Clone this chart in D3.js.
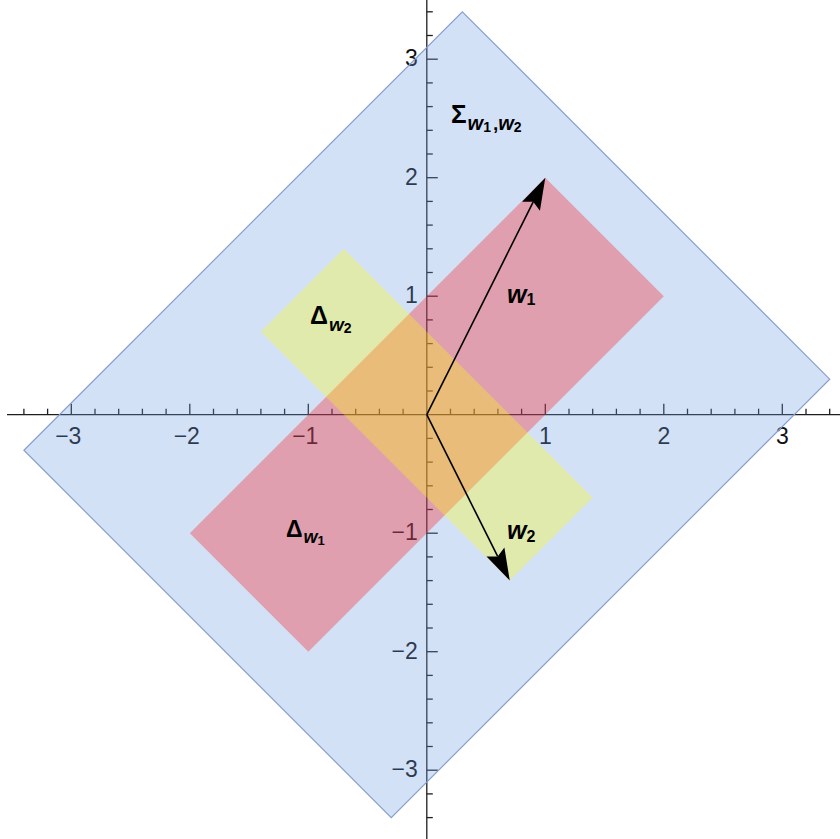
<!DOCTYPE html>
<html><head><meta charset="utf-8">
<script src="https://cdn.jsdelivr.net/npm/d3@7/dist/d3.min.js"></script>
<style>body{margin:0;background:#fff}svg{display:block}</style>
</head><body>
<svg id="chart" width="840" height="839"></svg>
<script>
// ---- data ----
const w1 = [1, 2];
const w2 = [0.7, -1.4];
const deltaW1 = [[1, 2], [2, 1], [-1, -2], [-2, -1]];
const deltaW2 = [[-0.7, 1.4], [1.4, -0.7], [0.7, -1.4], [-1.4, 0.7]];
const sigmaW1W2 = [[0.3, 3.4], [3.4, 0.3], [-0.3, -3.4], [-3.4, -0.3]];
const xTickLabels = [-3, -2, -1, 1, 2, 3];
const yTickLabels = [-3, -2, -1, 1, 2, 3];

const svg = d3.select("#chart");
const U = 118.5, OX = 426.8, OY = 414.7;
const x = d3.scaleLinear().domain([0, 1]).range([OX, OX + U]);
const y = d3.scaleLinear().domain([0, 1]).range([OY, OY - U]);
const xMin = x.invert(7), xMax = x.invert(840);
const yMin = y.invert(839), yMax = y.invert(0);

// ---- axes (drawn first; polygons are translucent over them) ----
const ax = svg.append("g").attr("stroke", "#1e1e1e").attr("fill", "none");
ax.append("line").attr("x1", x(xMin)).attr("x2", x(xMax)).attr("y1", y(0)).attr("y2", y(0)).attr("stroke-width", 1.3);
ax.append("line").attr("x1", x(0)).attr("x2", x(0)).attr("y1", y(yMax)).attr("y2", y(yMin)).attr("stroke-width", 1.3);
const minor = d3.range(-18, 19).map(i => i / 5);
minor.forEach(v => {
  if (Math.abs(v) < 1e-9) return;
  const major = Math.abs(v - Math.round(v)) < 1e-9;
  const len = major ? 11 : 6;
  if (v >= xMin && v <= xMax)
    ax.append("line").attr("x1", x(v)).attr("x2", x(v)).attr("y1", y(0)).attr("y2", y(0) - len).attr("stroke-width", 1.3);
  if (v >= yMin && v <= yMax)
    ax.append("line").attr("y1", y(v)).attr("y2", y(v)).attr("x1", x(0)).attr("x2", x(0) + len).attr("stroke-width", 1.3);
});
const fmt = v => (v < 0 ? "\u2212" + Math.abs(v) : String(v));
svg.append("g").selectAll("text").data(xTickLabels).join("text")
  .attr("x", d => x(d) + (d < 0 ? -3 : 0)).attr("y", y(0) + 29)
  .attr("text-anchor", "middle").attr("font-family", "Liberation Sans, Arial, sans-serif")
  .attr("font-size", 23).attr("fill", "#111").text(fmt);
svg.append("g").selectAll("text").data(yTickLabels).join("text")
  .attr("x", x(0) - 9).attr("y", d => y(d) + 7)
  .attr("text-anchor", "end").attr("font-family", "Liberation Sans, Arial, sans-serif")
  .attr("font-size", 23).attr("fill", "#111").text(fmt);

// ---- polygons ----
const line = d3.line().x(d => x(d[0])).y(d => y(d[1])).curve(d3.curveLinearClosed);
svg.append("path").attr("d", line(sigmaW1W2)).attr("fill", "rgb(108,155,225)").attr("fill-opacity", 0.3)
  .attr("stroke", "rgb(135,158,205)").attr("stroke-width", 1.2);
svg.append("path").attr("d", line(deltaW1)).attr("fill", "rgb(255,0,0)").attr("fill-opacity", 0.29);
svg.append("path").attr("d", line(deltaW2)).attr("fill", "rgb(255,255,0)").attr("fill-opacity", 0.3);

// ---- arrows ----
function arrow(v) {
  const x0 = x(0), y0 = y(0), x1 = x(v[0]), y1 = y(v[1]);
  const dx = x1 - x0, dy = y1 - y0, L = Math.hypot(dx, dy);
  const ux = dx / L, uy = dy / L, px = -uy, py = ux;
  const hl = 32, hw = 10, notch = 27;
  svg.append("line").attr("x1", x0).attr("y1", y0).attr("x2", x1 - ux * notch).attr("y2", y1 - uy * notch)
    .attr("stroke", "#000").attr("stroke-width", 1.6);
  const pts = [
    [x1, y1],
    [x1 - ux * hl + px * hw, y1 - uy * hl + py * hw],
    [x1 - ux * notch, y1 - uy * notch],
    [x1 - ux * hl - px * hw, y1 - uy * hl - py * hw]
  ];
  svg.append("path").attr("d", "M" + pts.map(p => p.join(",")).join("L") + "Z").attr("fill", "#000");
}
arrow(w1);
arrow(w2);

// ---- labels ----
const F = "Liberation Sans, Arial, sans-serif";
function label(px, py, main, mainSize, mainItalic, subs) {
  const t = svg.append("text").attr("x", px).attr("y", py).attr("font-family", F).attr("font-weight", "bold").attr("fill", "#000");
  t.append("tspan").attr("font-size", mainSize).attr("font-style", mainItalic ? "italic" : "normal").text(main);
  subs.forEach(s => {
    t.append("tspan").attr("font-size", s.size).attr("font-style", s.italic ? "italic" : "normal")
      .attr("dx", s.dx || 0).attr("dy", s.dy || 0).text(s.t);
  });
}
label(451, 123, "\u03A3", 26, false, [
  {t: "w", size: 20, italic: true, dy: 7, dx: 1},
  {t: "1", size: 14, dy: 2},
  {t: ",", size: 19, dy: -2, dx: 2},
  {t: "w", size: 20, italic: true},
  {t: "2", size: 14, dy: 2}
]);
label(310, 324, "\u0394", 25, false, [
  {t: "w", size: 19, italic: true, dy: 7, dx: 1},
  {t: "2", size: 14, dy: 2}
]);
label(286, 537, "\u0394", 23, false, [
  {t: "w", size: 18, italic: true, dy: 6, dx: 1},
  {t: "1", size: 13, dy: 2}
]);
label(507, 303, "w", 25, true, [{t: "1", size: 16, dy: 2}]);
label(507, 539, "w", 25, true, [{t: "2", size: 16, dy: 3}]);
</script>
</body></html>
